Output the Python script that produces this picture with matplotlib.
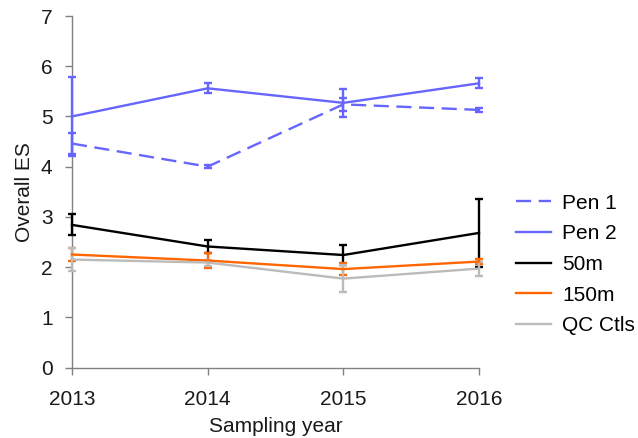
import matplotlib
matplotlib.use("Agg")
import matplotlib.pyplot as plt

plt.rcParams['font.family'] = ['Liberation Sans', 'DejaVu Sans']

years = [2013, 2014, 2015, 2016]
series_names = ["Pen 1", "Pen 2", "50m", "150m", "QC Ctls"]
pen1 = [4.46, 4.0, 5.24, 5.13]
pen1_err = [0.21, 0.03, 0.13, 0.04]
pen2 = [5.0, 5.56, 5.27, 5.66]
pen2_err = [0.78, 0.1, 0.28, 0.1]
m50 = [2.84, 2.41, 2.24, 2.68]
m50_err = [0.21, 0.12, 0.19, 0.67]
m150 = [2.25, 2.13, 1.96, 2.11]
m150_err = [0.13, 0.15, 0.12, 0.05]
qc = [2.15, 2.09, 1.77, 1.97]
qc_err = [0.22, 0.06, 0.27, 0.14]

FS = 15
fig = plt.figure(figsize=(6.38, 4.38), dpi=100)
ax = fig.add_axes([72 / 638, 1 - 367.5 / 438, (479 - 72) / 638, (367.5 - 16) / 438])

LW = 1.7
dash = (0, (6.4, 3.2))
styles = [
    (pen1, pen1_err, "#6666FF", dash),
    (pen2, pen2_err, "#6666FF", "-"),
    (m50, m50_err, "#000000", "-"),
    (m150, m150_err, "#FF6600", "-"),
    (qc, qc_err, "#BBBBBB", "-"),
]
order = [4, 3, 2, 0, 1]
handles = {}
for i in order:
    vals, err, col, ls = styles[i]
    line, caps, bars = ax.errorbar(years, vals, yerr=err, color=col, linestyle=ls,
                                   linewidth=LW, elinewidth=LW, capsize=2.6,
                                   capthick=LW, zorder=3 + i * 0.1)
    line.set_clip_on(False)
    for c in caps:
        c.set_clip_on(False)
    for b in bars:
        b.set_clip_on(False)
        b.set_linestyle('-')
    handles[i] = plt.Line2D([], [], color=col, linestyle=ls, linewidth=LW)

fig.legend([handles[i] for i in range(5)], series_names, loc='center left',
           bbox_to_anchor=(516 / 638, 1 - 264.5 / 438), frameon=False, fontsize=FS,
           handlelength=1.68, handletextpad=0.55, labelspacing=0.56,
           borderpad=0, borderaxespad=0)

ax.set_xlim(2013, 2016)
ax.set_ylim(0, 7)
ax.set_xticks(years)
ax.set_xticklabels([str(y) for y in years])
ax.set_yticks(range(0, 8))
ax.spines['top'].set_visible(False)
ax.spines['right'].set_visible(False)
for s in ['left', 'bottom']:
    ax.spines[s].set_color('#808080')
    ax.spines[s].set_linewidth(1)
ax.tick_params(axis='both', colors='#808080', labelcolor='#1a1a1a', labelsize=FS,
               direction='out', length=5, width=1)
ax.tick_params(axis='y', pad=9)
ax.tick_params(axis='x', pad=11)
ax.set_xlabel("Sampling year", fontsize=FS, labelpad=6, color='#1a1a1a')
ax.set_ylabel("Overall ES", fontsize=FS, labelpad=5, color='#1a1a1a')

fig.savefig("out.png", dpi=100)
